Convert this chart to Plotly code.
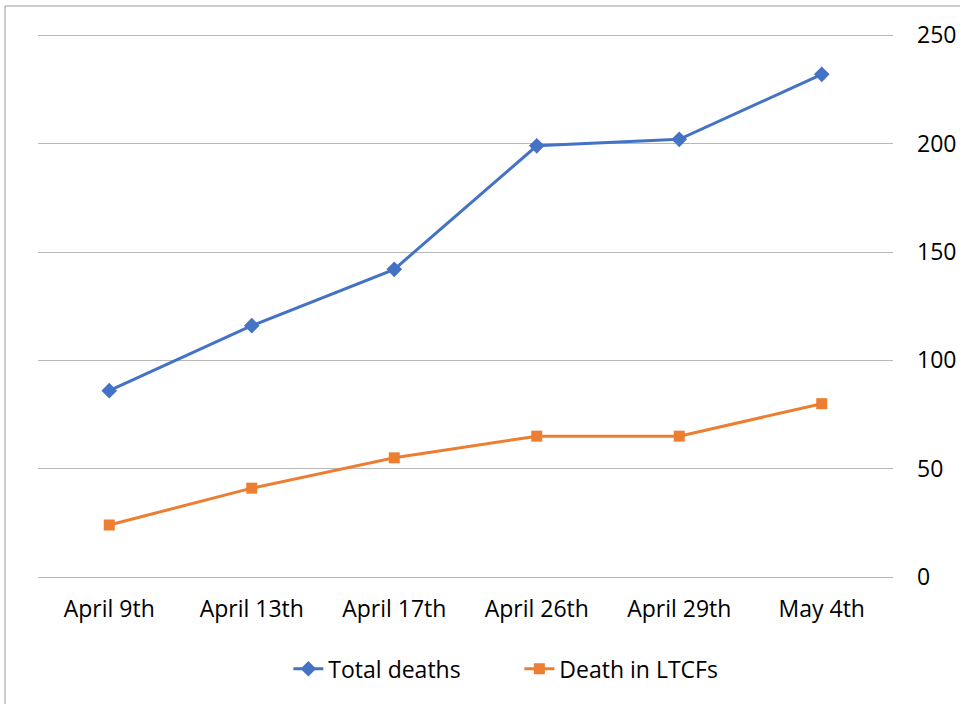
import plotly.graph_objects as go

categories = ["April 9th", "April 13th", "April 17th", "April 26th", "April 29th", "May 4th"]
total_deaths = [86, 116, 142, 199, 202, 232]
ltcf_deaths = [24, 41, 55, 65, 65, 80]
y_ticks = [0, 50, 100, 150, 200, 250]

FONT = "Open Sans, Liberation Sans, sans-serif"

fig = go.Figure()
fig.add_trace(go.Scatter(
    x=categories, y=total_deaths, name="Total deaths", mode="lines+markers",
    line=dict(color="#4472C4", width=3),
    marker=dict(symbol="diamond", size=12, color="#4472C4"),
))
fig.add_trace(go.Scatter(
    x=categories, y=ltcf_deaths, name="Death in LTCFs", mode="lines+markers",
    line=dict(color="#ED7D31", width=3),
    marker=dict(symbol="square", size=11, color="#ED7D31"),
))

fig.update_layout(
    width=960, height=704,
    margin=dict(l=38, r=67, t=31, b=127, autoexpand=False),
    paper_bgcolor="white", plot_bgcolor="white",
    font=dict(family=FONT, size=23, color="#000000"),
    showlegend=True,
    legend=dict(orientation="h", x=0.563, xanchor="center", y=-0.168, yanchor="middle",
                font=dict(size=23), traceorder="normal", entrywidth=186),
    xaxis=dict(type="category", range=[-0.5, 5.5], showgrid=False, zeroline=False,
               showline=False, ticks="", ticklabelstandoff=16, automargin=False),
    yaxis=dict(side="right", range=[0, 252], tickvals=y_ticks, showgrid=True,
               gridcolor="#B8B8B8", gridwidth=1.3, zeroline=True, zerolinecolor="#B8B8B8",
               zerolinewidth=1.3, showline=False, ticks="", ticklabelstandoff=23,
               automargin=False),
    shapes=[dict(type="rect", xref="paper", yref="paper",
                 x0=-33/855, x1=(960 + 10 - 38)/855, y0=-0.5, y1=(577 - 6)/546,
                 line=dict(color="#9A9A9A", width=1), fillcolor="rgba(0,0,0,0)", layer="below")],
)

fig.write_html("out.html", config={"displayModeBar": False},
               post_script="document.body.style.margin='0';document.body.style.overflow='hidden';")
